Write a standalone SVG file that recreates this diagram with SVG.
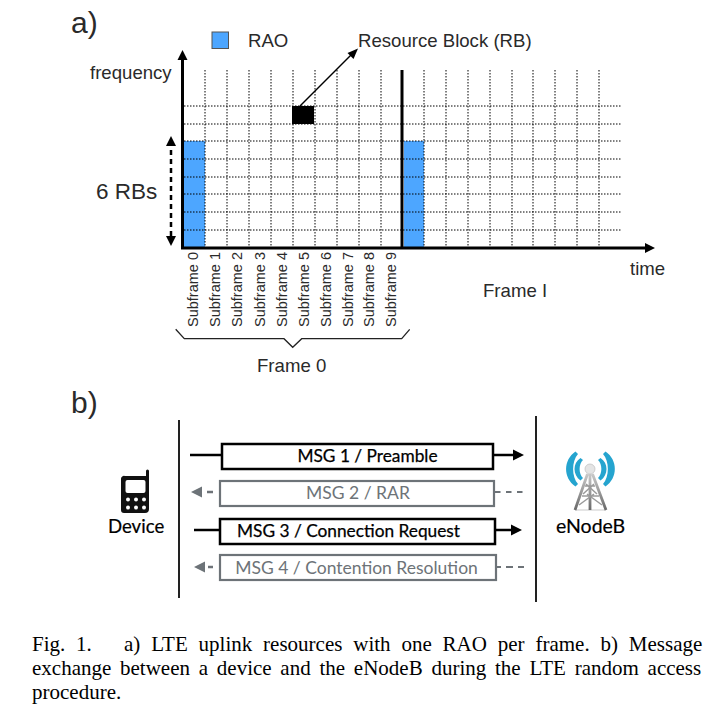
<svg xmlns="http://www.w3.org/2000/svg" width="712" height="720" viewBox="0 0 712 720">
<style>
text{font-family:"Liberation Sans",Arial,sans-serif;fill:#2a2a2a}
text.g{font-family:"Lato","Noto Sans",sans-serif}
text.cap{font-family:"Liberation Serif","Times New Roman",serif;font-size:21px;fill:#000}
.grid{stroke:#000;stroke-width:1;stroke-dasharray:1.5 1.5;fill:none}
.ax{stroke:#000;stroke-width:3;fill:none}
text.sf{font-size:14.5px}
text.l{font-size:18.6px}
.box1{fill:#fff;stroke:#000;stroke-width:2.5}
.box2{fill:#fff;stroke:#6d7378;stroke-width:2.2}
text.m1{font-size:17.3px;text-anchor:middle;fill:#000;stroke:#000;stroke-width:0.25px}
text.m2{font-size:17.5px;text-anchor:middle;fill:#6d7378}
text.n{font-size:18.6px;fill:#000;stroke:#000;stroke-width:0.2px}
</style>
<defs>
<linearGradient id="tw" x1="0" y1="0" x2="0" y2="1"><stop offset="0" stop-color="#c9c9c9"/><stop offset="1" stop-color="#6a6a6a"/></linearGradient>
</defs>
<rect width="712" height="720" fill="#fff"/>
<text x="71" y="33" font-size="30">a)</text>
<text x="71" y="413" font-size="30">b)</text>
<g id="legend"><rect x="212" y="32" width="16.5" height="16.5" fill="#4da6ff" stroke="#555" stroke-width="1"/><text class="l" x="248" y="47">RAO</text></g>
<g id="resource-grid">
<rect x="184" y="141" width="21" height="106" fill="#4da6ff"/>
<rect x="404" y="141" width="20" height="106" fill="#4da6ff"/>
<path class="grid" d="M205 70V247M227 70V247M249 70V247M271 70V247M293 70V247M315 70V247M337 70V247M359 70V247M381 70V247M424 70V247M446 70V247M468 70V247M490 70V247M512 70V247M533 70V247M555 70V247M577 70V247M599 70V247"/>
<path class="grid" d="M184 106H622M184 124H622M184 141H622M184 159H622M184 177H622M184 194H622M184 212H622M184 230H622"/>
<rect id="rb" x="292" y="106" width="22" height="18" fill="#000"/>
</g>
<g id="connectors">
<path d="M182.500 248V56" class="ax"/><path d="M182.500 50L187.500 60H177.500z"/>
<path d="M181 248H646" class="ax"/><path d="M655 248L645 243V253z"/>
<path d="M402 70V248" class="ax"/>
<path d="M300 106L354 52" stroke="#000" stroke-width="1.500"/><path d="M358 48.500L347.500 53L353.500 59z"/>
<path d="M171 150V238" stroke="#000" stroke-width="2.500" stroke-dasharray="5 4" fill="none"/>
<path d="M171 136L176 146H166z"/><path d="M171 246L176 236H166z"/>
<path d="M175.700 329.300L184.300 338.700H284L292.700 347.300L301.700 338.700H401.700L409.700 329.300" fill="none" stroke="#222" stroke-width="1.300"/>
</g>
<text class="l" x="90" y="79">frequency</text>
<text x="96" y="199" font-size="22.500">6 RBs</text>
<text class="l" x="358" y="47">Resource Block (RB)</text>
<text class="l" x="630" y="275">time</text>
<text class="l" x="483" y="297">Frame I</text>
<text class="l" x="257" y="372">Frame 0</text>
<g id="subframes">
<text class="sf" transform="translate(198 327) rotate(-90)">Subframe 0</text>
<text class="sf" transform="translate(220 327) rotate(-90)">Subframe 1</text>
<text class="sf" transform="translate(242 327) rotate(-90)">Subframe 2</text>
<text class="sf" transform="translate(265 327) rotate(-90)">Subframe 3</text>
<text class="sf" transform="translate(287 327) rotate(-90)">Subframe 4</text>
<text class="sf" transform="translate(309 327) rotate(-90)">Subframe 5</text>
<text class="sf" transform="translate(331 327) rotate(-90)">Subframe 6</text>
<text class="sf" transform="translate(353 327) rotate(-90)">Subframe 7</text>
<text class="sf" transform="translate(374 327) rotate(-90)">Subframe 8</text>
<text class="sf" transform="translate(396 327) rotate(-90)">Subframe 9</text>
</g>
<g id="lifelines"><path d="M179 420V598M536 416V602" stroke="#222" stroke-width="2"/></g>
<g id="msg1"><path d="M190 455H222" stroke="#000" stroke-width="2.500"/><rect class="box1" x="222" y="444" width="271" height="25"/><text class="g m1" x="367.500" y="462">MSG 1 / Preamble</text><path d="M493 455H515" stroke="#000" stroke-width="2.500"/><path d="M524 455L513 449.500V460.500z"/></g>
<g id="msg2"><path d="M191 492L202 486.500V497.500z" fill="#6d7378"/><path d="M207 492H213" stroke="#6d7378" stroke-width="2.500"/><rect class="box2" x="220" y="481" width="274" height="25"/><text class="g m2" x="358" y="499">MSG 2 / RAR</text><path d="M495 492H524" stroke="#6d7378" stroke-width="2.200" stroke-dasharray="5.500 5.500"/></g>
<g id="msg3"><path d="M194 530H220" stroke="#000" stroke-width="2.500"/><rect class="box1" x="220" y="519" width="275" height="25"/><text class="g m1" x="348.500" y="537">MSG 3 / Connection Request</text><path d="M495 530H513" stroke="#000" stroke-width="2.500"/><path d="M522 530L511 524.500V535.500z"/></g>
<g id="msg4"><path d="M194 567L205 561.500V572.500z" fill="#6d7378"/><path d="M208 567H213" stroke="#6d7378" stroke-width="2.500"/><rect class="box2" x="220" y="555" width="276" height="25"/><text class="g m2" x="356.500" y="574">MSG 4 / Contention Resolution</text><path d="M497 567H524" stroke="#6d7378" stroke-width="2.200" stroke-dasharray="4 5 7 5 7"/></g>
<g id="device"><path d="M125 476h21v-5a1.500 1.500 0 0 1 3 0v38a4 4 0 0 1-4 4h-21a3 3 0 0 1-3-3v-31a3 3 0 0 1 4-3z" fill="#111"/><rect x="125.500" y="480" width="20" height="13" rx="2" fill="#fff"/><g fill="#fff"><circle cx="128" cy="499.500" r="2"/><circle cx="136" cy="499.500" r="2"/><circle cx="144" cy="499.500" r="2"/><circle cx="128" cy="507.500" r="2"/><circle cx="136" cy="507.500" r="2"/><circle cx="144" cy="507.500" r="2"/></g><text class="g n" x="108" y="533">Device</text></g>
<g id="enodeb">
<path d="M575 510H606" stroke="#ddd" stroke-width="1.500"/>
<path d="M587.500 474L575 510M592.500 474L606 510M590 474V510" fill="none" stroke="url(#tw)" stroke-width="2.800"/>
<path d="M585 486H595M582 496H599M579 505L594 494M602 505L587 494M583 494L594 484M597 494L586 484" fill="none" stroke="#9a9a9a" stroke-width="1.500"/>
<circle cx="590" cy="469" r="5" fill="#e4e4e4" stroke="#c4c4c4" stroke-width="0.800"/>
<g fill="#25a4cf"><path d="M575.500 451.500C563 460 563 478 575.500 486.500L578 484C571.500 477 571.500 461 578 454z"/><path d="M580.500 458C572.500 463 572.500 475 580.500 480.500L583 478C578.500 474 578.500 464 583 460z"/><path d="M605.500 451.500C618 460 618 478 605.500 486.500L603 484C609.500 477 609.500 461 603 454z"/><path d="M600.500 458C608.500 463 608.500 475 600.500 480.500L598 478C602.500 474 602.500 464 598 460z"/></g>
<text class="g n" x="556" y="533" style="font-size:19.500px">eNodeB</text></g>
<g id="caption">
<text class="cap" x="32" y="651" word-spacing="5.600">Fig. 1.</text>
<text class="cap" x="124" y="651" word-spacing="5.600">a) LTE uplink resources with one RAO per frame. b) Message</text>
<text class="cap" x="32" y="675" word-spacing="3.500">exchange between a device and the eNodeB during the LTE random access</text>
<text class="cap" x="32" y="699">procedure.</text>
</g>
</svg>
